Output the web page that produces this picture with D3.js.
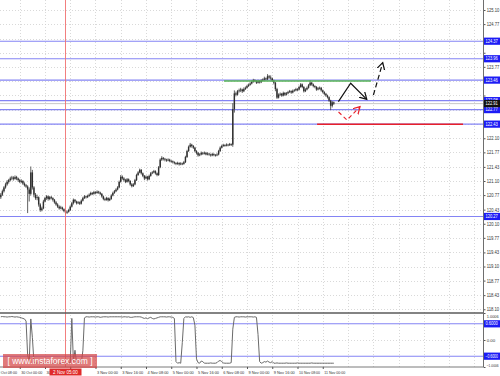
<!DOCTYPE html>
<html>
<head>
<meta charset="utf-8">
<script src="https://cdn.jsdelivr.net/npm/d3@7"></script>
<style>
  html, body { margin: 0; padding: 0; background: #fff; }
  svg { display: block; font-family: "Liberation Sans", Arial, sans-serif; }
</style>
</head>
<body>
<div id="chart"></div>
<script>
// USDJPY H1, 29 Oct - 11 Nov 2015, bars as [open, high, low, close]
const bars = [
  [120.72,120.82,120.68,120.78],[120.78,120.90,120.75,120.86],[120.86,120.98,120.83,120.95],[120.95,121.06,120.92,121.02],
  [121.02,121.12,120.99,121.08],[121.08,121.15,121.04,121.12],[121.12,121.20,121.09,121.16],[121.16,121.22,121.12,121.18],
  [121.18,121.21,121.11,121.15],[121.15,121.23,121.13,121.19],[121.19,121.22,121.12,121.16],[121.16,121.18,121.08,121.12],
  [121.12,121.15,121.05,121.08],[121.08,121.14,121.05,121.10],[121.10,121.12,121.01,121.04],[121.04,121.07,120.97,121.00],
  [121.00,121.03,120.94,120.97],[120.97,121.00,120.35,120.90],[120.90,120.95,120.62,120.80],[120.80,121.44,120.76,121.30],
  [121.30,121.36,120.90,120.95],[120.95,120.98,120.72,120.78],[120.78,120.82,120.66,120.70],[120.70,120.78,120.65,120.72],
  [120.72,120.74,120.50,120.55],[120.55,120.58,120.38,120.42],[120.42,120.50,120.39,120.46],[120.46,120.66,120.44,120.62],
  [120.62,120.73,120.60,120.70],[120.70,120.77,120.66,120.74],[120.74,120.76,120.64,120.68],[120.68,120.75,120.65,120.72],
  [120.72,120.75,120.67,120.70],[120.70,120.72,120.62,120.66],[120.66,120.68,120.57,120.60],[120.60,120.63,120.52,120.55],
  [120.55,120.58,120.47,120.50],[120.50,120.53,120.43,120.46],[120.46,120.52,120.44,120.48],[120.48,120.50,120.41,120.44],
  [120.44,120.46,120.37,120.40],[120.40,120.42,120.31,120.36],[120.36,120.41,120.33,120.38],[120.38,120.45,120.36,120.42],
  [120.42,120.53,120.40,120.50],[120.50,120.61,120.48,120.58],[120.58,120.69,120.55,120.66],[120.66,120.68,120.59,120.62],
  [120.62,120.64,120.55,120.58],[120.58,120.63,120.56,120.60],[120.60,120.62,120.54,120.57],[120.57,120.67,120.55,120.64],
  [120.64,120.73,120.62,120.70],[120.70,120.77,120.68,120.74],[120.74,120.76,120.69,120.72],[120.72,120.78,120.70,120.75],
  [120.75,120.81,120.73,120.78],[120.78,120.85,120.76,120.82],[120.82,120.84,120.77,120.80],[120.80,120.87,120.78,120.84],
  [120.84,120.86,120.79,120.82],[120.82,120.88,120.80,120.85],[120.85,120.87,120.80,120.83],[120.83,120.85,120.77,120.80],
  [120.80,120.82,120.71,120.74],[120.74,120.76,120.65,120.68],[120.68,120.71,120.63,120.66],[120.66,120.73,120.64,120.70],
  [120.70,120.72,120.62,120.65],[120.65,120.71,120.63,120.68],[120.68,120.79,120.66,120.76],[120.76,120.85,120.74,120.82],
  [120.82,120.89,120.80,120.86],[120.86,120.93,120.84,120.90],[120.90,120.98,120.88,120.95],[120.95,121.11,120.93,121.08],
  [121.08,121.24,121.06,121.20],[121.20,121.23,121.13,121.16],[121.16,121.19,121.09,121.12],[121.12,121.15,121.05,121.08],
  [121.08,121.17,121.06,121.14],[121.14,121.16,121.07,121.10],[121.10,121.12,120.99,121.02],[121.02,121.05,120.95,120.98],
  [120.98,121.05,120.96,121.02],[121.02,121.15,121.00,121.12],[121.12,121.27,121.10,121.24],[121.24,121.33,121.22,121.30],
  [121.30,121.39,121.28,121.36],[121.36,121.38,121.25,121.28],[121.28,121.30,121.19,121.22],[121.22,121.24,121.12,121.16],
  [121.16,121.23,121.14,121.20],[121.20,121.22,121.11,121.14],[121.14,121.25,121.12,121.22],[121.22,121.31,121.20,121.28],
  [121.28,121.33,121.26,121.30],[121.30,121.36,121.28,121.33],[121.33,121.35,121.25,121.28],[121.28,121.30,121.21,121.24],
  [121.24,121.45,121.22,121.42],[121.42,121.63,121.40,121.60],[121.60,121.68,121.57,121.64],[121.64,121.66,121.58,121.62],
  [121.62,121.64,121.56,121.60],[121.60,121.62,121.55,121.58],[121.58,121.63,121.56,121.60],[121.60,121.62,121.54,121.57],
  [121.57,121.59,121.53,121.56],[121.56,121.58,121.51,121.54],[121.54,121.56,121.49,121.52],[121.52,121.54,121.47,121.50],
  [121.50,121.55,121.48,121.52],[121.52,121.54,121.46,121.49],[121.49,121.54,121.47,121.51],[121.51,121.53,121.47,121.50],
  [121.50,121.57,121.48,121.54],[121.54,121.69,121.52,121.66],[121.66,121.83,121.64,121.80],[121.80,121.93,121.78,121.90],
  [121.90,121.99,121.88,121.95],[121.95,121.97,121.88,121.92],[121.92,121.94,121.85,121.88],[121.88,121.90,121.77,121.80],
  [121.80,121.82,121.72,121.76],[121.76,121.78,121.67,121.70],[121.70,121.75,121.68,121.72],[121.72,121.79,121.70,121.76],
  [121.76,121.78,121.71,121.74],[121.74,121.79,121.72,121.76],[121.76,121.78,121.70,121.72],[121.72,121.77,121.70,121.74],
  [121.74,121.76,121.69,121.72],[121.72,121.74,121.67,121.70],[121.70,121.76,121.68,121.73],[121.73,121.75,121.68,121.71],
  [121.71,121.73,121.67,121.70],[121.70,121.75,121.68,121.72],[121.72,121.83,121.70,121.80],[121.80,121.91,121.78,121.88],
  [121.88,121.95,121.86,121.92],[121.92,121.97,121.90,121.94],[121.94,121.96,121.90,121.93],[121.93,121.98,121.91,121.95],
  [121.95,121.97,121.91,121.94],[121.94,121.99,121.92,121.96],[121.96,121.98,121.92,121.95],[121.95,122.92,121.90,122.78],
  [122.78,123.22,122.70,123.15],[123.15,123.19,123.08,123.12],[123.12,123.23,123.10,123.20],[123.20,123.26,123.17,123.22],
  [123.22,123.28,123.18,123.24],[123.24,123.26,123.16,123.20],[123.20,123.29,123.18,123.25],[123.25,123.31,123.23,123.28],
  [123.28,123.35,123.26,123.32],[123.32,123.38,123.30,123.35],[123.35,123.41,123.33,123.38],[123.38,123.45,123.36,123.42],
  [123.42,123.49,123.40,123.46],[123.46,123.48,123.41,123.44],[123.44,123.46,123.37,123.40],[123.40,123.47,123.38,123.44],
  [123.44,123.46,123.38,123.41],[123.41,123.48,123.39,123.45],[123.45,123.50,123.43,123.47],[123.47,123.54,123.45,123.50],
  [123.50,123.52,123.45,123.48],[123.48,123.60,123.46,123.55],[123.55,123.58,123.49,123.52],[123.52,123.57,123.47,123.50],
  [123.50,123.52,123.42,123.45],[123.45,123.47,123.36,123.40],[123.40,123.42,123.20,123.25],[123.25,123.28,123.02,123.05],
  [123.05,123.15,123.03,123.12],[123.12,123.17,123.09,123.14],[123.14,123.16,123.07,123.10],[123.10,123.19,123.08,123.16],
  [123.16,123.18,123.09,123.12],[123.12,123.18,123.10,123.15],[123.15,123.21,123.13,123.18],[123.18,123.23,123.16,123.20],
  [123.20,123.22,123.14,123.17],[123.17,123.24,123.15,123.21],[123.21,123.25,123.19,123.22],[123.22,123.28,123.20,123.25],
  [123.25,123.27,123.20,123.24],[123.24,123.33,123.22,123.30],[123.30,123.39,123.28,123.36],[123.36,123.38,123.27,123.30],
  [123.30,123.32,123.17,123.20],[123.20,123.27,123.18,123.24],[123.24,123.31,123.22,123.28],[123.28,123.37,123.26,123.34],
  [123.34,123.46,123.32,123.40],[123.40,123.42,123.33,123.36],[123.36,123.38,123.29,123.32],[123.32,123.34,123.27,123.30],
  [123.30,123.32,123.21,123.24],[123.24,123.30,123.22,123.27],[123.27,123.31,123.24,123.28],[123.28,123.30,123.19,123.22],
  [123.22,123.24,123.15,123.18],[123.18,123.20,123.11,123.14],[123.14,123.16,123.07,123.10],[123.10,123.12,123.03,123.06],
  [123.06,123.08,122.95,122.98],[122.98,123.00,122.76,122.86],[122.86,122.97,122.82,122.94],[122.94,122.96,122.88,122.91]
];

// oscillator in the lower window, one value per bar
const oscValues = [
  0.86,0.87,0.86,0.86,0.85,0.86,0.86,0.87,0.86,0.85,0.86,0.85,0.84,0.82,0.80,0.78,0.70,
  -0.55,-0.84,0.78,0.10,-0.82,
  -0.86,-0.85,-0.86,-0.86,-0.85,-0.86,-0.86,-0.86,-0.85,-0.86,-0.86,-0.86,-0.85,-0.86,-0.86,-0.86,-0.86,-0.85,-0.86,-0.86,-0.86,-0.85,-0.84,
  0.80,-0.80,-0.38,-0.84,-0.86,-0.82,-0.86,-0.40,
  0.82,0.86,0.86,0.85,0.86,0.86,0.86,0.85,0.86,0.86,0.84,0.85,0.86,0.86,0.86,0.85,0.86,0.86,0.86,0.86,
  0.86,0.86,0.86,0.86,0.85,0.86,0.86,0.85,0.86,0.84,0.84,0.85,0.86,0.86,0.86,0.86,0.85,0.82,0.80,0.82,
  0.79,0.82,0.84,0.80,0.78,0.80,0.82,0.84,0.86,0.86,0.86,0.86,0.85,0.86,0.86,0.85,0.84,0.80,
  -0.80,-0.86,-0.84,-0.86,-0.10,0.80,0.86,0.85,0.86,0.84,0.86,0.83,0.55,-0.70,-0.84,
  -0.86,-0.78,-0.80,-0.86,-0.86,-0.86,-0.86,-0.85,-0.86,-0.86,-0.86,-0.84,-0.78,-0.76,-0.80,-0.85,-0.86,-0.86,-0.86,-0.86,-0.84,
  0.40,0.84,0.86,0.86,0.85,0.86,0.86,0.86,0.85,0.86,0.86,0.86,0.86,0.85,0.86,0.84,
  0.20,-0.80,-0.86,-0.84,-0.80,-0.82,-0.78,-0.82,-0.84,-0.80,
  -0.86,-0.86,-0.85,-0.86,-0.86,-0.86,-0.86,-0.86,-0.85,-0.86,-0.86,-0.86,-0.86,-0.86,-0.86,-0.85,-0.86,-0.86,-0.86,-0.86,
  -0.86,-0.86,-0.86,-0.86,-0.85,-0.86,-0.86,-0.86,-0.86,-0.86,-0.86,-0.86,-0.86,-0.86,-0.86,-0.86,-0.86,-0.86,-0.86
];

const priceTicks = [125.10, 124.77, 124.43, 124.10, 123.77, 123.43, 123.10, 122.77, 122.43, 122.10, 121.77,
  121.43, 121.10, 120.77, 120.43, 120.10, 119.77, 119.43, 119.10, 118.77, 118.43, 118.10];
const timeLabels = ['29 Oct 08:00', '30 Oct 00:00', '30 Oct 16:00', '2 Nov 08:00', '3 Nov 00:00', '3 Nov 16:00',
  '4 Nov 08:00', '5 Nov 00:00', '5 Nov 16:00', '6 Nov 08:00', '9 Nov 00:00', '9 Nov 16:00', '10 Nov 08:00', '11 Nov 00:00'];
const timeLabelBars = [-4, 12, 28, 44, 60, 76, 92, 108, 124, 140, 156, 172, 188, 204];
const futureGridBars = [220, 236, 252, 268, 284, 300];

const levels = [124.37, 123.96, 123.46, 122.98, 122.77, 122.43, 120.27];
const lastPrice = 122.91;
const markedBar = 41;            // 2 Nov 05:00
const markedLabel = '2 Nov 05:00';
const resistance = { price: 123.44, from: 141.4, to: 234.6 };
const support = { price: 122.43, from: 200.4, to: 292.9 };
const pathMain = [[213.9, 122.955], [221.7, 123.386], [231.9, 123.011]];
const pathBreak = [[236.1, 123.112], [242.0, 123.868]];
const pathAlt = [[214.0, 122.714], [219.4, 122.527], [227.6, 122.838]];

const oscTicks = [1.0006, 0, -1.0006];
const oscLevels = [0.6, -0.6];

const width = 500, height = 376;
const plotRight = 483;
const mainBottom = 313, oscBottom = 367;
const axisFont = 4.6;

const x = d3.scaleLinear().domain([0, 211]).range([0.8, 333.8]);
const y = d3.scaleLinear().domain([118.10, 125.10]).range([309.25, 10]);
const yo = d3.scaleLinear().domain([-1.0006, 1.0006]).range([oscBottom, mainBottom]);

// squeeze a text into maxW pixels if the font runs wider
const fit = (sel, maxW) => sel.each(function () {
  if (this.getComputedTextLength() > maxW) {
    d3.select(this).attr('textLength', maxW).attr('lengthAdjust', 'spacingAndGlyphs');
  }
});

const svg = d3.select('#chart').append('svg')
  .attr('width', width).attr('height', height)
  .attr('viewBox', `0 0 ${width} ${height}`);

const defs = svg.append('defs');
defs.append('clipPath').attr('id', 'clipMain')
  .append('rect').attr('x', 0).attr('y', 0).attr('width', plotRight).attr('height', mainBottom);
defs.append('clipPath').attr('id', 'clipOsc')
  .append('rect').attr('x', 0).attr('y', mainBottom).attr('width', plotRight).attr('height', oscBottom - mainBottom);

const addMarker = (id, color) => {
  defs.append('marker').attr('id', id)
    .attr('markerUnits', 'userSpaceOnUse')
    .attr('markerWidth', 10).attr('markerHeight', 10)
    .attr('refX', 7).attr('refY', 4).attr('orient', 'auto')
    .append('path').attr('d', 'M0,0 L7,4 L0,8')
    .attr('fill', 'none').attr('stroke', color).attr('stroke-width', 1.2);
};
addMarker('arrowBlack', '#111');
addMarker('arrowRed', '#e8202a');

// grid
const gridBars = timeLabelBars.concat(futureGridBars);
const grid = svg.append('g').attr('stroke', '#cfcfcf').attr('stroke-dasharray', '1,2').attr('stroke-width', 0.8);
grid.selectAll('.gh').data(priceTicks).join('line')
  .attr('x1', 0).attr('x2', plotRight)
  .attr('y1', d => Math.round(y(d)) + 0.5).attr('y2', d => Math.round(y(d)) + 0.5);
grid.selectAll('.gv').data(gridBars).join('line')
  .attr('x1', d => Math.round(x(d)) + 0.5).attr('x2', d => Math.round(x(d)) + 0.5)
  .attr('y1', 0).attr('y2', oscBottom);
grid.append('line').attr('x1', 0).attr('x2', plotRight)
  .attr('y1', Math.round(yo(0)) + 0.5).attr('y2', Math.round(yo(0)) + 0.5);

// main window
const main = svg.append('g').attr('clip-path', 'url(#clipMain)');

main.append('line')
  .attr('x1', 0).attr('x2', plotRight)
  .attr('y1', y(lastPrice)).attr('y2', y(lastPrice))
  .attr('stroke', '#c8c8c8').attr('stroke-width', 1);

main.selectAll('.level').data(levels).join('line')
  .attr('x1', 0).attr('x2', plotRight)
  .attr('y1', d => y(d)).attr('y2', d => y(d))
  .attr('stroke', '#8484f4').attr('stroke-width', 1.1);

const candles = main.append('g');
candles.selectAll('.wick').data(bars).join('line')
  .attr('x1', (d, i) => x(i)).attr('x2', (d, i) => x(i))
  .attr('y1', d => y(d[1])).attr('y2', d => y(d[2]))
  .attr('stroke', '#3a3a3a').attr('stroke-width', 0.8);
candles.selectAll('.body').data(bars).join('rect')
  .attr('x', (d, i) => x(i) - 0.7)
  .attr('y', d => y(Math.max(d[0], d[3])))
  .attr('width', 1.4)
  .attr('height', d => Math.max(0.8, Math.abs(y(d[0]) - y(d[3]))))
  .attr('fill', '#2e2e2e');

main.append('line')
  .attr('x1', x(resistance.from)).attr('x2', x(resistance.to))
  .attr('y1', y(resistance.price)).attr('y2', y(resistance.price))
  .attr('stroke', '#58b558').attr('stroke-width', 1.5);
main.append('line')
  .attr('x1', x(support.from)).attr('x2', x(support.to))
  .attr('y1', y(support.price)).attr('y2', y(support.price))
  .attr('stroke', '#e8202a').attr('stroke-width', 1.5);

const line = d3.line().x(d => x(d[0])).y(d => y(d[1]));
main.append('path').attr('d', line(pathMain))
  .attr('fill', 'none').attr('stroke', '#111').attr('stroke-width', 1.2)
  .attr('marker-end', 'url(#arrowBlack)');
main.append('path').attr('d', line(pathBreak))
  .attr('fill', 'none').attr('stroke', '#111').attr('stroke-width', 1.2)
  .attr('stroke-dasharray', '5,3')
  .attr('marker-end', 'url(#arrowBlack)');
main.append('path').attr('d', line(pathAlt))
  .attr('fill', 'none').attr('stroke', '#e8202a').attr('stroke-width', 1.1)
  .attr('stroke-dasharray', '4,3')
  .attr('marker-end', 'url(#arrowRed)');

// oscillator window
const osc = svg.append('g').attr('clip-path', 'url(#clipOsc)');
osc.selectAll('.olevel').data(oscLevels).join('line')
  .attr('x1', 0).attr('x2', plotRight)
  .attr('y1', d => yo(d)).attr('y2', d => yo(d))
  .attr('stroke', '#8484f4').attr('stroke-width', 1.1);
osc.append('path')
  .attr('d', d3.line().x((d, i) => x(i)).y(d => yo(d))(oscValues))
  .attr('fill', 'none').attr('stroke', '#6a6a6a').attr('stroke-width', 1);

// marked vertical line
svg.append('line')
  .attr('x1', x(markedBar)).attr('x2', x(markedBar))
  .attr('y1', 0).attr('y2', oscBottom)
  .attr('stroke', '#f07070').attr('stroke-width', 0.9);

// frames
svg.append('line').attr('x1', 0).attr('x2', plotRight)
  .attr('y1', mainBottom).attr('y2', mainBottom)
  .attr('stroke', '#5a5a5a').attr('stroke-width', 1.6);
svg.append('line').attr('x1', 0).attr('x2', plotRight)
  .attr('y1', oscBottom).attr('y2', oscBottom)
  .attr('stroke', '#7a7a7a').attr('stroke-width', 1);

// right price axis; labels hidden where a level tag sits on top of them
const labelW = width - plotRight - 4.5;
const tagged = levels.concat([lastPrice]).map(v => y(v));
const axisR = svg.append('g').attr('transform', `translate(${plotRight + 0.5},0)`)
  .call(d3.axisRight(y).tickValues(priceTicks).tickFormat(d3.format('.2f')).tickSize(2).tickPadding(1.2));
axisR.select('.domain').remove();
axisR.selectAll('text').attr('font-size', axisFont).attr('fill', '#333').call(fit, labelW);
axisR.selectAll('.tick').filter(d => tagged.some(t => Math.abs(t - y(d)) < 6)).select('text').remove();
axisR.selectAll('line').attr('stroke', '#555');

const axisO = svg.append('g').attr('transform', `translate(${plotRight + 0.5},0)`)
  .call(d3.axisRight(yo).tickValues(oscTicks).tickFormat(d => d === 0 ? '0.00' : d3.format('.4f')(d)).tickSize(2).tickPadding(1.2));
axisO.select('.domain').remove();
axisO.selectAll('text').attr('font-size', 4.4).attr('fill', '#333').call(fit, labelW - 0.5);
axisO.selectAll('.tick').filter(d => d !== 0).select('text')
  .attr('dy', d => d > 0 ? '0.95em' : '-0.15em');
axisO.selectAll('line').attr('stroke', '#555');

svg.append('line').attr('x1', plotRight + 0.5).attr('x2', plotRight + 0.5)
  .attr('y1', 0).attr('y2', oscBottom)
  .attr('stroke', '#6e6e6e').attr('stroke-width', 1);

// level tags on the price axis
const tag = (value, yPos, fill, fmt) => {
  const g = svg.append('g').attr('transform', `translate(${plotRight + 1},${yPos})`);
  g.append('rect').attr('x', 0).attr('y', -3.6).attr('width', width - plotRight - 1).attr('height', 7.2).attr('fill', fill);
  g.append('text').attr('x', 1.4).attr('y', 0).attr('dy', '0.35em')
    .attr('font-size', axisFont).attr('fill', '#fff').text(fmt(value)).call(fit, labelW);
};
levels.forEach(v => tag(v, y(v), '#1c1cf5', d3.format('.2f')));
tag(lastPrice, y(lastPrice), '#111', d3.format('.2f'));
oscLevels.forEach(v => tag(v, yo(v), '#1c1cf5', d3.format('.4f')));

// bottom time axis; the label under the marked-bar tag is covered by it
const mx = x(markedBar);
const axisB = svg.append('g').attr('transform', `translate(0,${oscBottom})`)
  .call(d3.axisBottom(x).tickValues(timeLabelBars).tickFormat((d, i) => timeLabels[i]).tickSize(2).tickPadding(2));
axisB.select('.domain').remove();
axisB.selectAll('text').attr('font-size', 4.4).attr('fill', '#333')
  .attr('text-anchor', 'start').attr('dx', 1).call(fit, 21);
axisB.selectAll('.tick').filter(d => Math.abs(x(d) - mx) < 18).select('text').remove();
axisB.selectAll('line').attr('stroke', '#555');

svg.append('rect').attr('x', mx - 16).attr('y', oscBottom + 1.5).attr('width', 32).attr('height', 7)
  .attr('fill', '#e02a2a');
svg.append('text').attr('x', mx).attr('y', oscBottom + 5).attr('dy', '0.35em')
  .attr('text-anchor', 'middle').attr('font-size', 4.6).attr('fill', '#fff').text(markedLabel).call(fit, 28);

// watermark
const logo = svg.append('g');
logo.append('rect').attr('x', 3).attr('y', 354).attr('width', 94).attr('height', 14)
  .attr('fill', 'rgba(214,70,70,0.72)');
logo.append('text').attr('x', 50).attr('y', 361.5).attr('dy', '0.35em')
  .attr('text-anchor', 'middle').attr('font-size', 8.5).attr('fill', '#fff')
  .text('[ www.instaforex.com ]');
</script>
</body>
</html>
